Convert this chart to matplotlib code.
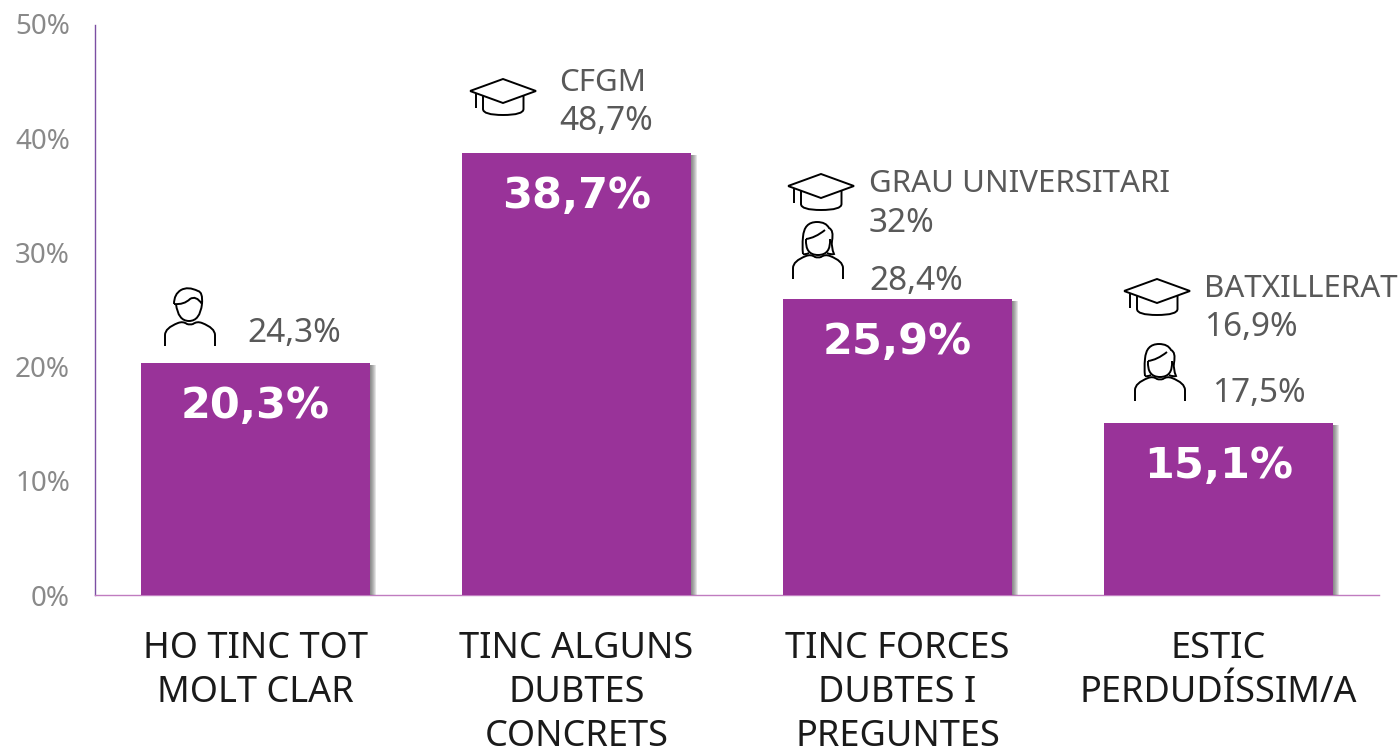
import matplotlib
matplotlib.use("Agg")
import matplotlib.pyplot as plt
import matplotlib.patheffects as pe
from matplotlib.path import Path
from matplotlib.patches import PathPatch
from matplotlib.transforms import Affine2D

plt.rcParams['font.family'] = ['Noto Sans', 'DejaVu Sans']

categories = ["HO TINC TOT\nMOLT CLAR", "TINC ALGUNS\nDUBTES\nCONCRETS",
              "TINC FORCES\nDUBTES I\nPREGUNTES", "ESTIC\nPERDUDÍSSIM/A"]
values = [20.3, 38.7, 25.9, 15.1]
value_labels = ["20,3%", "38,7%", "25,9%", "15,1%"]
yticks = [0, 10, 20, 30, 40, 50]
ytick_labels = ["0%", "10%", "20%", "30%", "40%", "50%"]

# side notes: text, x px, y px (from top of image)
notes = [("24,3%", 247, 333), ("CFGM", 559, 83), ("48,7%", 559, 122),
         ("GRAU UNIVERSITARI", 869, 184), ("32%", 869, 223), ("28,4%", 869, 281),
         ("BATXILLERAT", 1204, 289), ("16,9%", 1204, 328), ("17,5%", 1212, 393)]
hats = [(503, 91), (821, 186), (1157, 291)]
women = [(818, 279), (1160, 401)]
men = [(190, 346)]

W, H = 1399, 751
fig = plt.figure(figsize=(W / 100, H / 100), dpi=100)
ax = fig.add_axes([95 / W, (H - 595) / H, 1284 / W, 571 / H])

# pixel coordinates, origin top left
px = Affine2D().scale(1, -1).translate(0, H)

shadow = [pe.SimplePatchShadow(offset=(k, -1.5), shadow_rgbFace="#444444", alpha=0.14)
          for k in (4, 3.4, 2.8, 2.2, 1.6, 1)]
bars = ax.bar(range(4), values, width=0.714, color="#993399", edgecolor="none", zorder=3)
for b in bars:
    b.set_path_effects(shadow + [pe.Normal()])

ax.set_xlim(-0.5, 3.5)
ax.set_ylim(0, 50)
ax.set_yticks(yticks, ytick_labels, color="#898989", fontsize=20)
ax.set_xticks(range(4), categories, fontsize=26, color="#1a1a1a", linespacing=1.3)
ax.tick_params(axis="y", length=0, pad=18)
ax.tick_params(axis="x", length=0, pad=26)
ax.spines["top"].set_visible(False)
ax.spines["right"].set_visible(False)
ax.spines["left"].set_color("#7B4FA3")
ax.spines["bottom"].set_color("#C07CC0")
ax.spines["left"].set_linewidth(1)
ax.spines["bottom"].set_linewidth(1)
ax.spines["left"].set_bounds(0, 49.9)

for i, v in enumerate(values):
    ax.annotate(value_labels[i], (i, v), xytext=(0, -31), textcoords="offset points",
                ha="center", va="center", color="white", fontsize=31, fontweight="bold",
                family="DejaVu Sans", zorder=4)

for t, x, y in notes:
    size = 24 if "%" in t else 22.5
    fig.text(x, y, t, transform=px, ha="left", va="center", fontsize=size, color="#595959")


def stroke(verts, codes, x, y, scale=1.0):
    tr = Affine2D().scale(scale).translate(x, y) + px
    fig.add_artist(PathPatch(Path(verts, codes), transform=tr, fc="none", ec="black", lw=1.4))


M, L, C = Path.MOVETO, Path.LINETO, Path.CURVE3


def draw_hat(x, y):
    stroke([(-33, 0), (0, -12), (33, 0), (0, 12), (-33, 0)], [M, L, L, L, L], x, y)
    stroke([(-27, 3), (-27, 17)], [M, L], x, y)
    stroke([(-20, 4), (-20, 18), (-20, 24), (0, 24), (20.5, 24), (20.5, 18), (20.5, 4)],
           [M, L, C, C, C, C, L], x, y)


def draw_shoulders(x, y):
    v = [(-25, 0), (-25, -11), (-25, -18), (-12, -23), (-7, -25), (-3, -22), (0, -21),
         (3, -22), (7, -25), (12, -23), (25, -18), (25, -11), (25, 0)]
    stroke(v, [M, L, C, C, C, C, C, C, C, C, C, C, L], x, y)


def draw_man(x, y):
    draw_shoulders(x, y)
    stroke([(-14, -42), (-12, -25), (-1, -25), (10, -25), (12, -42)], [M, C, C, C, C], x, y)
    hair = [(-16, -42), (-16, -52), (-9, -56), (-2, -60), (8, -55), (13, -54), (12, -42),
            (6, -51), (0, -47), (-6, -41), (-16, -42)]
    stroke(hair, [M, C, C, C, C, C, C, C, C, C, C], x, y)


def draw_woman(x, y):
    draw_shoulders(x, y)
    stroke([(-12, -40), (-13, -24), (0, -24), (13, -24), (12, -40)], [M, C, C, C, C], x, y)
    hair = [(-15, -25), (-16, -33), (-15, -42), (-14, -57), (-1, -57), (8, -57), (11, -51),
            (16, -49), (14, -38), (13, -32), (16, -25), (13, -24), (9, -26)]
    stroke(hair, [M, C, C, C, C, C, C, C, C, C, C, C, C], x, y)
    stroke([(-12, -40), (-3, -41), (7, -49)], [M, C, C], x, y)
    stroke([(-15, -25), (-13, -24), (-9, -26)], [M, C, C], x, y)


for x, y in hats:
    draw_hat(x, y)
for x, y in women:
    draw_woman(x, y)
for x, y in men:
    draw_man(x, y)

fig.savefig("out.png", dpi=100)
